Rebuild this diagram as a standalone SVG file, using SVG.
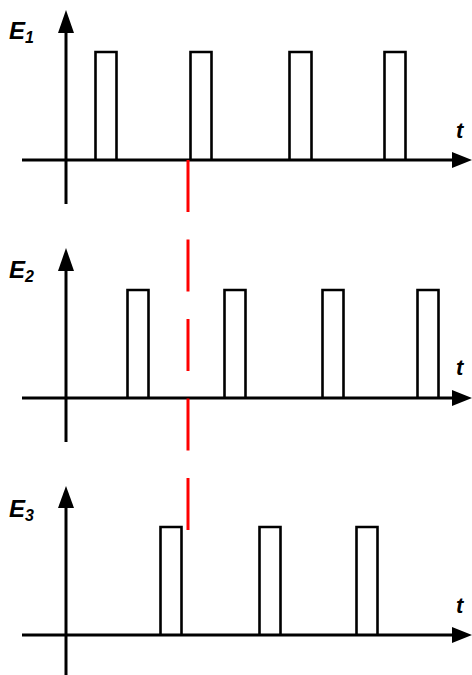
<svg xmlns="http://www.w3.org/2000/svg" width="472" height="675" viewBox="0 0 472 675">
<style>
.ax{stroke:#000;stroke-width:3;fill:none}
.p{stroke:#000;stroke-width:2.6;fill:none}
.ah{fill:#000}
.lb{font-family:"Liberation Sans",Arial,sans-serif;font-weight:bold;font-style:italic;fill:#000}
.red{stroke:#ff0000;stroke-width:3;fill:none}
</style>
<rect width="472" height="675" fill="#fff"/>
<g id="panel1">
<line class="ax" x1="22" y1="160" x2="455" y2="160"/>
<polygon class="ah" points="472,160 452,152 452,168"/>
<line class="ax" x1="66" y1="30" x2="66" y2="204"/>
<polygon class="ah" points="66,10 58,33 74,33"/>
<polyline class="p" points="95.5,160 95.5,52 116.5,52 116.5,160"/>
<polyline class="p" points="190.5,160 190.5,52 211.5,52 211.5,160"/>
<polyline class="p" points="289.5,160 289.5,52 311.5,52 311.5,160"/>
<polyline class="p" points="384.5,160 384.5,52 405.5,52 405.5,160"/>
<text class="lb" x="9" y="39" font-size="24">E<tspan font-size="16" dy="4">1</tspan></text>
<text class="lb" x="456" y="138" font-size="22">t</text>
</g>
<g id="panel2">
<line class="ax" x1="22" y1="398" x2="455" y2="398"/>
<polygon class="ah" points="472,398 452,390 452,406"/>
<line class="ax" x1="66" y1="268" x2="66" y2="442"/>
<polygon class="ah" points="66,248 58,271 74,271"/>
<polyline class="p" points="127.5,398 127.5,290 148.5,290 148.5,398"/>
<polyline class="p" points="224.5,398 224.5,290 245.5,290 245.5,398"/>
<polyline class="p" points="322.5,398 322.5,290 343.5,290 343.5,398"/>
<polyline class="p" points="417.5,398 417.5,290 438.5,290 438.5,398"/>
<text class="lb" x="9" y="278" font-size="24">E<tspan font-size="16" dy="4">2</tspan></text>
<text class="lb" x="456" y="375" font-size="22">t</text>
</g>
<g id="panel3">
<line class="ax" x1="22" y1="635" x2="455" y2="635"/>
<polygon class="ah" points="472,635 452,627 452,643"/>
<line class="ax" x1="66" y1="505" x2="66" y2="675"/>
<polygon class="ah" points="66,486 58,508 74,508"/>
<polyline class="p" points="160.5,635 160.5,527 181.5,527 181.5,635"/>
<polyline class="p" points="259.5,635 259.5,527 280.5,527 280.5,635"/>
<polyline class="p" points="356.5,635 356.5,527 377.5,527 377.5,635"/>
<text class="lb" x="9" y="517" font-size="24">E<tspan font-size="16" dy="4">3</tspan></text>
<text class="lb" x="456" y="613" font-size="22">t</text>
</g>
<g id="connectors">
<line class="red" x1="188" y1="160" x2="188" y2="530" stroke-dasharray="52 27.5"/>
</g>
</svg>
